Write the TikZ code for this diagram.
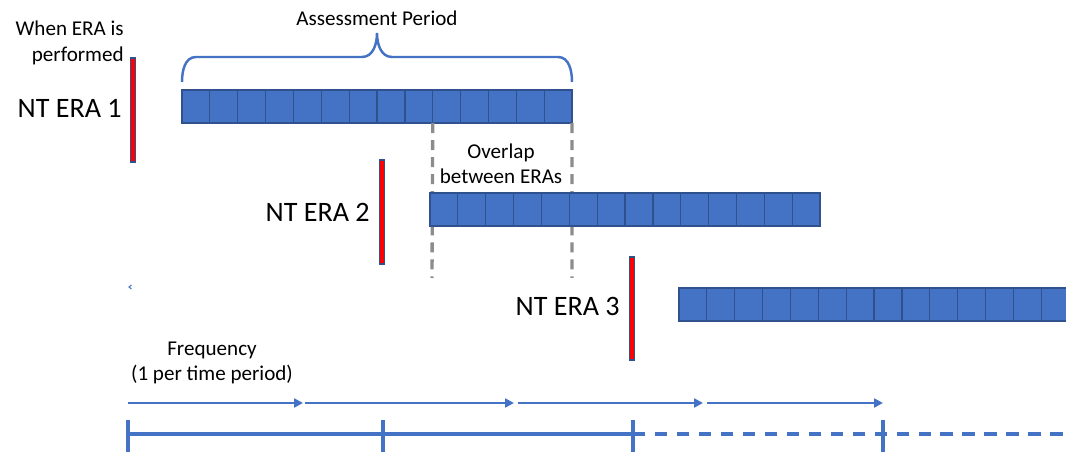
\documentclass[tikz,border=0pt]{standalone}
\usepackage{fontspec}
\setmainfont{Carlito}
\usetikzlibrary{arrows.meta}
\definecolor{officeblue}{HTML}{4472C4}
\definecolor{cellline}{HTML}{2F528F}
\definecolor{dashgray}{HTML}{8C8C8C}
\tikzset{
  cell/.style={draw=cellline,fill=officeblue,line width=0.7pt,minimum width=0.557cm,minimum height=0.66cm,inner sep=0pt,outer sep=0pt},
  marker/.style={draw=cellline,fill=red,line width=0.6pt,minimum width=0.09cm,minimum height=2.08cm,inner sep=0pt},
  eralabel/.style={anchor=east,inner sep=0pt,font=\fontsize{16}{19}\selectfont},
  note/.style={align=center,inner sep=0pt,font=\fontsize{12}{14.5}\selectfont},
  overlapline/.style={draw=dashgray,line width=1.9pt,dash pattern=on 5.7pt off 4pt},
  bracket/.style={draw=officeblue,line width=1.4pt},
  freqarrow/.style={draw=officeblue,line width=1.3pt,-{Triangle[length=5pt,width=5pt]}},
  timeline/.style={draw=officeblue,line width=2.1pt}
}
\begin{document}
\begin{tikzpicture}[x=0.02cm,y=-0.02cm]
\useasboundingbox (0,0) rectangle (1066,452);
% when the ERAs are performed
\node[note,anchor=east,align=right] (when) at (124,43) {When ERA is\\performed};
\node[marker] (m1) at (133,110) {};
\node[marker] (m2) at (382,212) {};
\node[marker,minimum height=2.06cm] (m3) at (632,308.5) {};
\node[eralabel] (era1) at (122,108) {NT ERA 1};
\node[eralabel] (era2) at (370,212) {NT ERA 2};
\node[eralabel] (era3) at (620,306) {NT ERA 3};
% first ERA and its assessment period
\foreach \i in {1,...,14}
  \node[cell] (a\i) at ({182+27.86*(\i-0.5)},106.5) {};
\draw[bracket] (182,82) to[out=90,in=180] (196,57) -- (362,57)
  to[out=0,in=-90] (377,33) to[out=-90,in=180] (392,57) -- (558,57)
  to[out=0,in=90] (572,82);
\node[note] (assess) at (377,18) {Assessment Period};
% overlap
\coordinate (d1) at (432,278);
\coordinate (d2) at (572,278);
\draw[overlapline] (a9.south east) -- (d1);
\draw[overlapline] (a14.south east) -- (d2);
\node[note] (overlap) at (501,164) {Overlap\\between ERAs};
% second and third ERA
\foreach \i in {1,...,14}
  \node[cell] (b\i) at ({430+27.86*(\i-0.5)},209.5) {};
\foreach \i in {1,...,14}
  \node[cell] (c\i) at ({679+27.86*(\i-0.5)},304.5) {};
\draw[officeblue,line width=0.6pt] (131.5,285) -- (129,287) -- (131.5,289);
% frequency
\node[note] (freq) at (212,363) {Frequency\\(1 per time period)};
\coordinate (f0) at (128,403);
\coordinate (f1) at (303,403);
\coordinate (f2) at (305,403);
\coordinate (f3) at (514,403);
\coordinate (f4) at (518,403);
\coordinate (f5) at (703,403);
\coordinate (f6) at (707,403);
\coordinate (f7) at (883,403);
\draw[freqarrow] (f0) -- (f1);
\draw[freqarrow] (f2) -- (f3);
\draw[freqarrow] (f4) -- (f5);
\draw[freqarrow] (f6) -- (f7);
% time line
\coordinate (t0) at (128,434);
\coordinate (t1) at (383,434);
\coordinate (t2) at (633,434);
\coordinate (t3) at (883,434);
\coordinate (tend) at (1066,434);
\draw[timeline] (t0) -- (t2);
\draw[timeline,dash pattern=on 7pt off 5.5pt] (t2) -- (tend);
\foreach \t in {t0,t1,t2,t3}
  \draw[timeline] (\t) ++(0,-14) -- ++(0,34);
\end{tikzpicture}
\end{document}
